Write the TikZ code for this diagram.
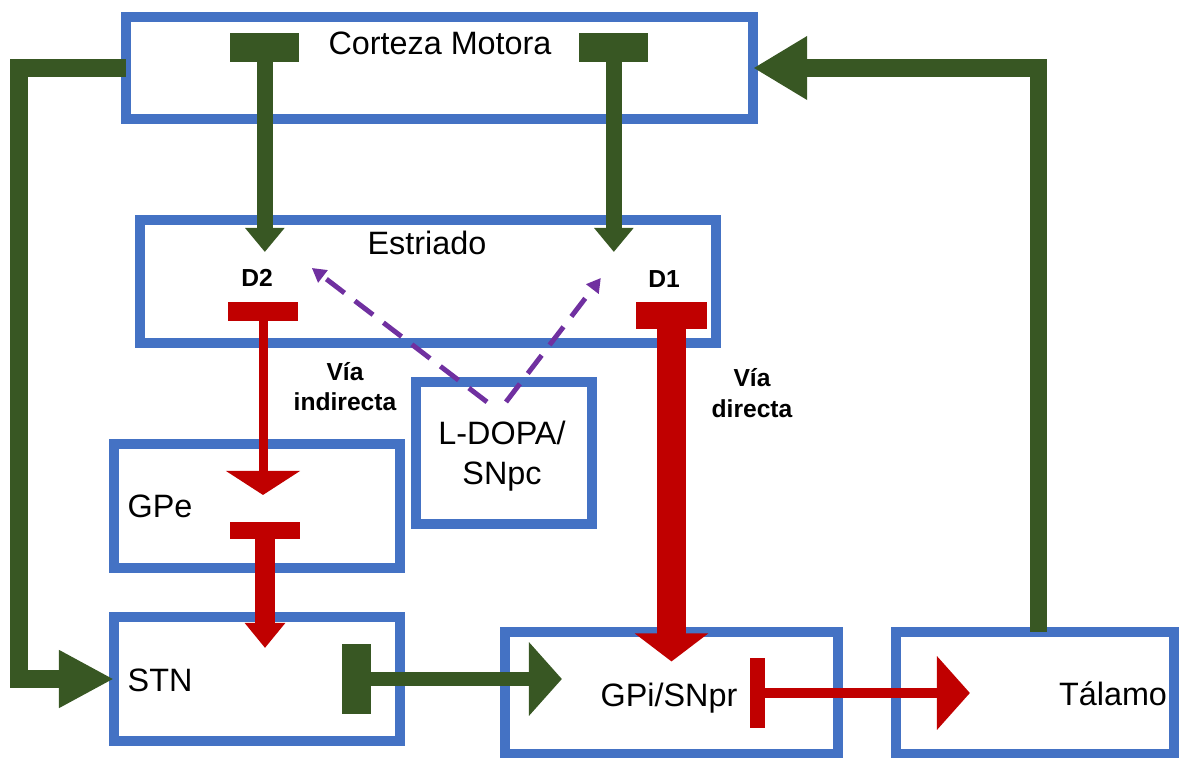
\documentclass[tikz,border=0pt]{standalone}
\usepackage{fontspec}
\setmainfont{Liberation Sans}
\usetikzlibrary{arrows.meta, calc}
\definecolor{boxblue}{RGB}{68,114,196}
\definecolor{excgreen}{RGB}{56,87,35}
\definecolor{inhred}{RGB}{192,0,0}
\definecolor{dopapurple}{RGB}{112,48,160}

\begin{document}
\begin{tikzpicture}[
    x=0.01cm, y=-0.01cm,
    box/.style={rectangle, draw=boxblue, line width=2.85pt, outer sep=0pt, inner sep=0pt},
    lbl/.style={font=\fontsize{9.2}{11.1}\selectfont, align=center, inner sep=0pt, anchor=base},
    path lbl/.style={font=\fontsize{7}{8.7}\selectfont\bfseries, align=center, inner sep=0pt, anchor=base},
    excit/.style={draw=excgreen, line width=5.1pt},
    inhib/.style={draw=inhred},
    dopa/.style={-{Triangle[length=0.14cm, width=0.15cm]}, draw=dopapurple, line width=1.4pt,
                 dash pattern=on 6.5pt off 3.7pt}
]
\useasboundingbox (0,0) rectangle (1179,758);

% boxes
\node[box, minimum width=6.27cm, minimum height=1.02cm] (cortex) at (439.5,68) {};
\node[box, minimum width=5.76cm, minimum height=1.23cm] (striatum) at (428,281.5) {};
\node[box, minimum width=1.76cm, minimum height=1.42cm] (ldopa) at (504,453) {};
\node[box, minimum width=2.86cm, minimum height=1.24cm] (gpe) at (257,506) {};
\node[box, minimum width=2.86cm, minimum height=1.24cm] (stn) at (257,679) {};
\node[box, minimum width=3.33cm, minimum height=1.21cm] (gpi) at (671.5,693) {};
\node[box, minimum width=2.78cm, minimum height=1.22cm] (thal) at (1035,693) {};

% texts (base = last line)
\node[lbl] (cortextxt) at (440,55) {Corteza Motora};
\node[lbl] (striatumtxt) at (427,255) {Estriado};
\node[lbl] (ldopatxt) at (502,484) {L-DOPA/\\SNpc};
\node[lbl, anchor=base west] (gpetxt) at (127,517) {GPe};
\node[lbl, anchor=base west] (stntxt) at (127,691) {STN};
\node[lbl] (gpitxt) at (669,706) {GPi/SNpr};
\node[lbl] (thaltxt) at (1113,705) {Tálamo};
\node[path lbl] (d2txt) at (257,287) {D2};
\node[path lbl] (d1txt) at (664,288) {D1};
\node[path lbl] (indtxt) at (345,411) {Vía\\indirecta};
\node[path lbl] (dirtxt) at (752,417) {Vía\\directa};

% connector end points
\coordinate (d2in) at ($(striatum.north west)+(125,32)$);
\coordinate (d1in) at ($(striatum.north west)+(474,32)$);
\coordinate (gpein) at ($(gpe.north)+(6,51)$);
\coordinate (stnin) at ($(stn.north)+(8,31)$);
\coordinate (gpitop) at ($(gpi.north)+(0,29)$);
\coordinate (gpiin) at ($(gpi.west |- stn.east)+(57,0)$);
\coordinate (thalin) at ($(thal.west)+(74,0)$);
\coordinate (d2dopa) at ($(striatum.north west)+(172,48)$);
\coordinate (d1dopa) at ($(striatum.north west)+(461,58)$);

% cortical loops
\draw[excit, -{Triangle[length=0.55cm, width=0.54cm]}] (cortex.west) -- ++(-107,0) |- (stn.west);
\draw[excit, -{Triangle[length=0.54cm, width=0.60cm]}] ([xshift=0.035cm]thal.north) |- (cortex.east);
\draw[excit, line width=4.55pt, {Rectangle[length=0.29cm, width=0.69cm]}-{Triangle[length=0.24cm, width=0.38cm]}]
    ($(cortex.north -| d2in)+(0,16)$) -- (d2in);
\draw[excit, line width=4.55pt, {Rectangle[length=0.29cm, width=0.69cm]}-{Triangle[length=0.24cm, width=0.38cm]}]
    ($(cortex.north -| d1in)+(0,16)$) -- (d1in);

% indirect pathway
\draw[inhib, line width=2.56pt, {Rectangle[length=0.19cm, width=0.70cm]}-{Triangle[length=0.24cm, width=0.73cm]}]
    ($(striatum.south -| gpein)+(0,-41)$) -- (gpein);
\draw[inhib, line width=5.7pt, {Rectangle[length=0.17cm, width=0.70cm]}-{Triangle[length=0.25cm, width=0.39cm]}]
    ($(gpe.south -| stnin)+(0,-46)$) -- (stnin);
\draw[excit, line width=4pt, {Rectangle[length=0.29cm, width=0.69cm]}-{Triangle[length=0.33cm, width=0.72cm]}]
    ($(stn.east)+(-58,0)$) -- (gpiin);

% direct pathway
\draw[inhib, line width=8.25pt, {Rectangle[length=0.27cm, width=0.70cm]}-{Triangle[length=0.28cm, width=0.72cm]}]
    ($(striatum.south -| gpitop)+(0,-41)$) -- (gpitop);
\draw[inhib, line width=3.1pt, {Rectangle[length=0.15cm, width=0.69cm]}-{Triangle[length=0.33cm, width=0.72cm]}]
    ($(gpi.east)+(-88,0)$) -- (thalin);

% dopamine
\draw[dopa] ($(ldopa.north)+(-17,20)$) -- (d2dopa);
\draw[dopa] ($(ldopa.north)+(2,20)$) -- (d1dopa);
\end{tikzpicture}
\end{document}
